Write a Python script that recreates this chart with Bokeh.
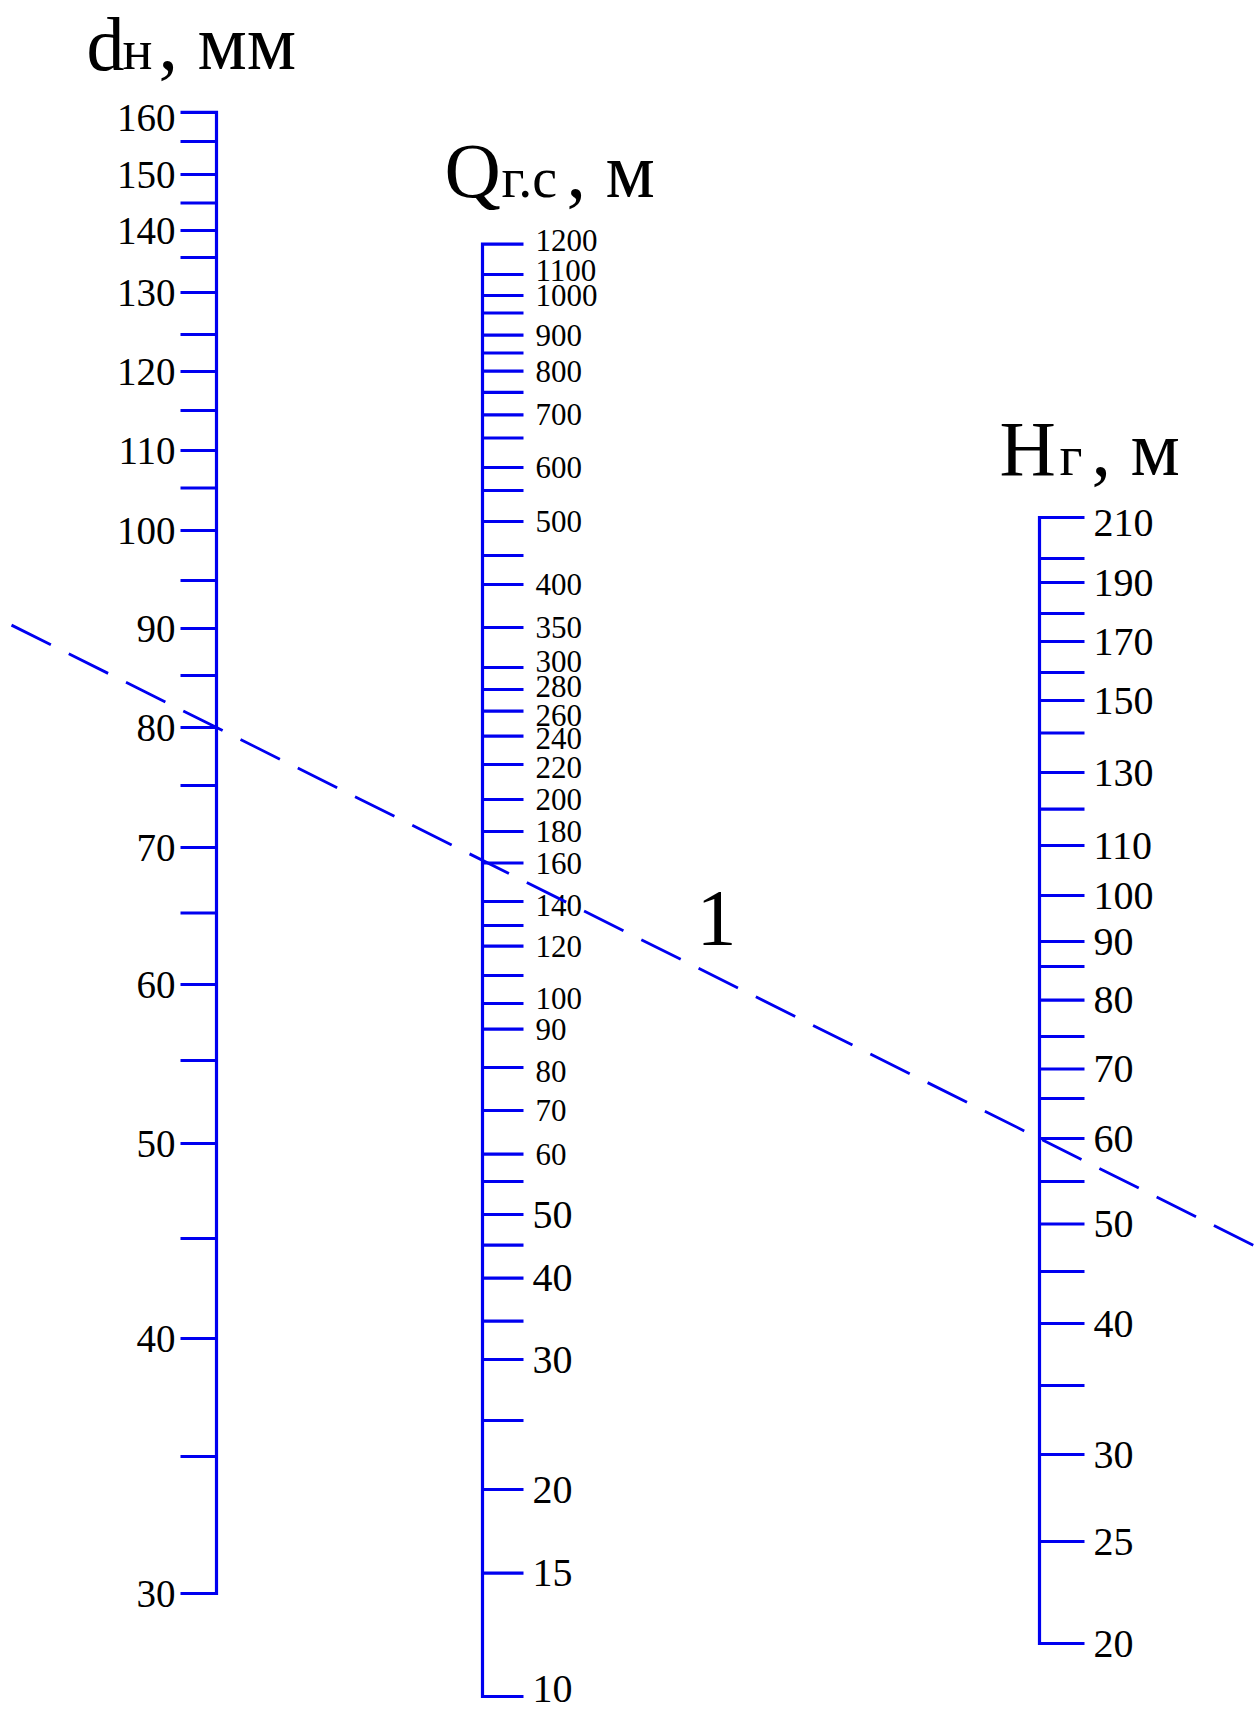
from bokeh.plotting import figure
from bokeh.models import Range1d, ColumnDataSource
from bokeh.core.properties import value
from bokeh.embed import file_html
from bokeh.resources import INLINE

# ---------------- data: nomogram scales ----------------
# d_н, мм  (graduation values and their positions along the scale, sheet units from top)
d_values = [160, 155, 150, 145, 140, 135, 130, 125, 120, 115, 110, 105, 100,
            95, 90, 85, 80, 75, 70, 65, 60, 55, 50, 45, 40, 35, 30]
d_pos = [111.8, 141, 174, 202.5, 230, 257, 292, 334, 371, 410, 450, 487.5, 530,
         580, 628, 675, 727, 785, 847, 912.5, 984, 1060, 1143, 1238, 1338, 1456, 1593]
d_labels = [160, 150, 140, 130, 120, 110, 100, 90, 80, 70, 60, 50, 40, 30]

# Q_г.с, м
q_values = [1200, 1100, 1000, 950, 900, 850, 800, 750, 700, 650, 600, 550, 500, 450,
            400, 350, 300, 280, 260, 240, 220, 200, 180, 160, 140, 130, 120, 110,
            100, 90, 80, 70, 60, 55, 50, 45, 40, 35, 30, 25, 20, 15, 10]
q_pos = [243.6, 274, 295, 312.5, 334.6, 352.5, 370.7, 391.8, 414.3, 437.5, 467, 490,
         521, 555, 584, 627, 667, 689, 710.7, 735.7, 764, 799, 831, 862.5, 901, 925,
         945.7, 975, 1003, 1028.6, 1067, 1110, 1153.6, 1181, 1214, 1244.6, 1277.7,
         1320.7, 1359, 1420, 1489, 1572.7, 1696]
q_labels_small = [1200, 1100, 1000, 900, 800, 700, 600, 500, 400, 350, 300, 280, 260,
                  240, 220, 200, 180, 160, 140, 120, 100, 90, 80, 70, 60]
q_labels_big = [50, 40, 30, 20, 15, 10]

# H_г, м
h_values = [210, 200, 190, 180, 170, 160, 150, 140, 130, 120, 110, 100, 90, 85, 80,
            75, 70, 65, 60, 55, 50, 45, 40, 35, 30, 25, 20]
h_pos = [517, 558, 582, 613, 641, 672, 700, 732.5, 772, 808.6, 845, 895, 941, 966,
         999.6, 1036, 1068.5, 1098, 1138, 1181, 1223.5, 1271, 1323, 1385, 1454, 1541, 1643]
h_labels = [210, 190, 170, 150, 130, 110, 100, 90, 80, 70, 60, 50, 40, 30, 25, 20]

# example key line (1): d = 80 mm, H = 60 m -> Q = 160
key_d = 80
key_h = 60
key_label = "1"

# ---------------- layout / style ----------------
W, HGT = 1255, 1710
BLUE = "#0000f0"
FONT = "Liberation Serif"
AX_W = 3.2

D_X, D_TICK = 216, 36     # axis x, tick length (ticks to the left)
Q_X, Q_TICK = 482, 41     # ticks to the right
H_X, H_TICK = 1039, 45    # ticks to the right

# small vertical nudges of crowded / end labels (style only)
NUDGE = {("d", 160): 6, ("q", 1200): -4, ("q", 1100): -4, ("q", 300): -6,
         ("q", 280): -3, ("q", 260): 4, ("q", 240): 2, ("q", 220): 3,
         ("q", 140): 4, ("q", 100): -5, ("q", 80): 4, ("q", 10): -8, ("h", 210): 5}

p = figure(width=W, height=HGT, x_range=Range1d(0, W), y_range=Range1d(HGT, 0),
           output_backend="svg", toolbar_location=None, min_border=0,
           x_axis_location=None, y_axis_location=None)
p.grid.visible = False
p.outline_line_color = None
p.background_fill_color = "white"
p.border_fill_color = "white"


def draw_scale(ax_x, tick_len, direction, values, pos):
    tip = ax_x + direction * tick_len
    p.line([tip, ax_x, ax_x, tip], [pos[0], pos[0], pos[-1], pos[-1]],
           line_color=BLUE, line_width=AX_W, line_join="miter")
    n = len(pos) - 2
    src = ColumnDataSource(dict(x0=[ax_x] * n, x1=[tip] * n, y=pos[1:-1]))
    p.segment(x0="x0", y0="y", x1="x1", y1="y", source=src,
              line_color=BLUE, line_width=AX_W)


def lookup(values, pos, v):
    return pos[values.index(v)]


def draw_labels(key, labels, values, pos, x, align, size):
    src = ColumnDataSource(dict(x=[x] * len(labels),
                                y=[lookup(values, pos, v) + NUDGE.get((key, v), 0)
                                   for v in labels],
                                t=[str(v) for v in labels]))
    p.text(x="x", y="y", text="t", source=src, text_align=align,
           text_baseline="middle", text_font=value(FONT),
           text_font_size=value(size), text_color="black")


draw_scale(D_X, D_TICK, -1, d_values, d_pos)
draw_scale(Q_X, Q_TICK, +1, q_values, q_pos)
draw_scale(H_X, H_TICK, +1, h_values, h_pos)

draw_labels("d", d_labels, d_values, d_pos, 175, "right", "39px")
draw_labels("q", q_labels_small, q_values, q_pos, 535, "left", "31px")
draw_labels("q", q_labels_big, q_values, q_pos, 532, "left", "40px")
draw_labels("h", h_labels, h_values, h_pos, 1093, "left", "40px")

# key line through d=80 and H=60, extended to sheet edges
y_d = lookup(d_values, d_pos, key_d)
y_h = lookup(h_values, h_pos, key_h)
slope = (y_h - y_d) / (H_X - D_X)
x_a, x_b = 11, 1254
p.line([x_a, x_b], [y_d + slope * (x_a - D_X), y_d + slope * (x_b - D_X)],
       line_color=BLUE, line_width=2.8, line_dash="44 20")

# line number
p.text(x=[716], y=[918], text=[key_label], text_align="center", text_baseline="middle",
       text_font=value(FONT), text_font_size=value("80px"), text_color="black")


# titles (main part, subscript, unit) placed on a common baseline
def title(parts, base_y):
    for txt, x, size in parts:
        mid = base_y - 0.34 * size
        p.text(x=[x], y=[mid], text=[txt], text_align="left", text_baseline="middle",
               text_font=value(FONT), text_font_size=value(f"{size}px"),
               text_color="black")


title([("d", 86, 76), ("н", 122, 56), (", мм", 158, 78)], 69)
title([("Q", 444, 78), ("г.с", 501, 56), (", м", 566, 78)], 197)
title([("H", 999, 78), ("г", 1059, 56), (", м", 1091, 78)], 475)

open("out.html", "w").write(file_html(p, INLINE))
